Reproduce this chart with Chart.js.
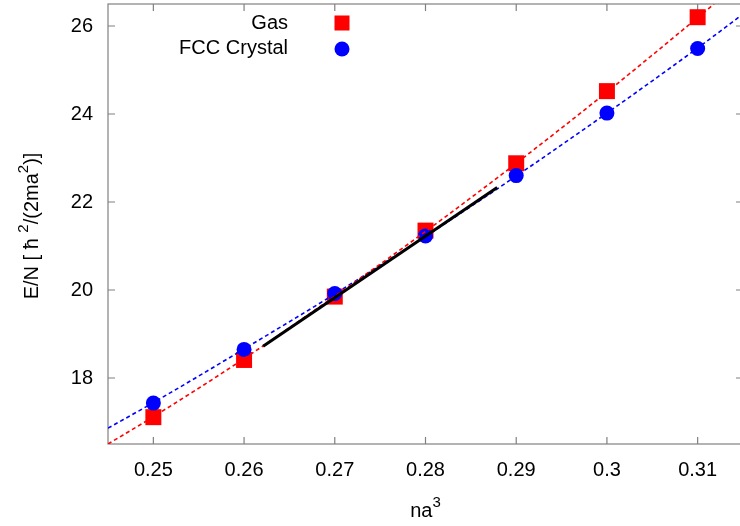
<!DOCTYPE html>
<html>
<head>
<meta charset="utf-8">
<script src="https://cdn.jsdelivr.net/npm/chart.js@4.4.1/dist/chart.umd.min.js"></script>
<style>
  html, body { margin: 0; padding: 0; background: #fff; overflow: hidden; }
  canvas { display: block; }
</style>
</head>
<body>
<canvas id="chart" width="746" height="526"></canvas>
<script>
// density n*a^3 and energy per particle for both phases
const densities = [0.25, 0.26, 0.27, 0.28, 0.29, 0.30, 0.31];
const gasEnergy = [17.11, 18.41, 19.85, 21.35, 22.88, 24.52, 26.20];
const crystalEnergy = [17.43, 18.65, 19.92, 21.23, 22.60, 24.02, 25.49];

// fitted equations of state
const gasFitX = [0.245, 0.25, 0.26, 0.27, 0.28, 0.29, 0.30, 0.31, 0.3118];
const gasFitY = [16.50, 17.12, 18.44, 19.86, 21.33, 22.88, 24.50, 26.19, 26.50];
const crystalFitX = [0.245, 0.25, 0.26, 0.27, 0.28, 0.29, 0.30, 0.31, 0.315];
const crystalFitY = [16.86, 17.44, 18.66, 19.91, 21.22, 22.59, 24.02, 25.50, 26.27];

// common tangent (double tangent construction)
const tangentX = [0.2621, 0.2879];
const tangentY = [18.72, 22.33];

const xTicks = [0.25, 0.26, 0.27, 0.28, 0.29, 0.3, 0.31];
const yTicks = [18, 20, 22, 24, 26];

const FONT = '"Liberation Sans", Arial, Helvetica, sans-serif';
const FRAME = '#808080';

const toPoints = (xs, ys) => xs.map((x, i) => ({ x: x, y: ys[i] }));

// gnuplot-like border with inward ticks on all four sides
const framePlugin = {
  id: 'frame',
  beforeDatasetsDraw(chart) {
    const { ctx, chartArea: a, scales } = chart;
    const len = 7;
    ctx.save();
    ctx.strokeStyle = FRAME;
    ctx.lineWidth = 1.2;
    ctx.strokeRect(a.left, a.top, a.right - a.left, a.bottom - a.top);
    ctx.beginPath();
    xTicks.forEach((v) => {
      const px = scales.x.getPixelForValue(v);
      ctx.moveTo(px, a.bottom); ctx.lineTo(px, a.bottom - len);
      ctx.moveTo(px, a.top); ctx.lineTo(px, a.top + len);
    });
    yTicks.forEach((v) => {
      const py = scales.y.getPixelForValue(v);
      ctx.moveTo(a.left, py); ctx.lineTo(a.left + len, py);
      ctx.moveTo(a.right, py); ctx.lineTo(a.right - len, py);
    });
    ctx.stroke();
    ctx.restore();
  },
};

// text with raised exponents
function drawRich(ctx, parts, cx, baseline) {
  const size = (p) => (p.sup ? 15 : 20);
  let total = 0;
  parts.forEach((p) => {
    ctx.font = size(p) + 'px ' + FONT;
    total += ctx.measureText(p.t).width;
  });
  let x = cx - total / 2;
  ctx.textAlign = 'left';
  ctx.textBaseline = 'alphabetic';
  parts.forEach((p) => {
    ctx.font = size(p) + 'px ' + FONT;
    ctx.fillText(p.t, x, p.sup ? baseline - 10 : baseline);
    x += ctx.measureText(p.t).width;
  });
}

const titlePlugin = {
  id: 'axisTitles',
  afterDraw(chart) {
    const { ctx, chartArea: a } = chart;
    ctx.save();
    ctx.fillStyle = '#000';
    drawRich(ctx, [{ t: 'na' }, { t: '3', sup: true }], (a.left + a.right) / 2, 517);
    ctx.translate(38, (a.top + a.bottom) / 2 + 2);
    ctx.rotate(-Math.PI / 2);
    drawRich(ctx, [
      { t: 'E/N [ ħ ' }, { t: '2', sup: true },
      { t: '/(2ma' }, { t: '2', sup: true }, { t: ')]' },
    ], 0, 0);
    ctx.restore();
  },
};

// key in the upper left corner: label right-aligned, symbol to its right
const keyPlugin = {
  id: 'key',
  afterDraw(chart) {
    const ctx = chart.ctx;
    ctx.save();
    ctx.font = '20px ' + FONT;
    ctx.textAlign = 'right';
    ctx.textBaseline = 'middle';
    chart.data.datasets.forEach((ds) => {
      if (ds.keyRow === undefined) return;
      const y = 23 + ds.keyRow * 25;
      ctx.fillStyle = '#000';
      ctx.fillText(ds.label, 288, y);
      ctx.fillStyle = ds.backgroundColor;
      if (ds.pointStyle === 'rect') {
        ctx.fillRect(342 - 7.5, y - 7.5, 15, 15);
      } else {
        ctx.beginPath();
        ctx.arc(342, y + 1, 7.5, 0, Math.PI * 2);
        ctx.fill();
      }
    });
    ctx.restore();
  },
};

new Chart(document.getElementById('chart'), {
  type: 'line',
  data: {
    datasets: [
      {
        label: 'tangent',
        data: toPoints(tangentX, tangentY),
        borderColor: '#000',
        borderWidth: 3,
        pointRadius: 0,
        order: 0,
      },
      {
        label: 'gas fit',
        data: toPoints(gasFitX, gasFitY),
        borderColor: '#ff0000',
        borderWidth: 1.6,
        borderDash: [4, 3],
        pointRadius: 0,
        cubicInterpolationMode: 'monotone',
        order: 1,
      },
      {
        label: 'crystal fit',
        data: toPoints(crystalFitX, crystalFitY),
        borderColor: '#0000ff',
        borderWidth: 1.6,
        borderDash: [4, 3],
        pointRadius: 0,
        cubicInterpolationMode: 'monotone',
        order: 1,
      },
      {
        label: 'FCC Crystal',
        keyRow: 1,
        data: toPoints(densities, crystalEnergy),
        showLine: false,
        pointStyle: 'circle',
        pointRadius: 7.5,
        borderWidth: 0,
        backgroundColor: '#0000ff',
        borderColor: '#0000ff',
        order: 2,
      },
      {
        label: 'Gas',
        keyRow: 0,
        data: toPoints(densities, gasEnergy),
        showLine: false,
        pointStyle: 'rect',
        pointRadius: 11.3,
        borderWidth: 0,
        backgroundColor: '#ff0000',
        borderColor: '#ff0000',
        order: 3,
      },
    ],
  },
  options: {
    responsive: false,
    animation: false,
    layout: { autoPadding: false, padding: { top: 4, right: 3, left: 0, bottom: 0 } },
    plugins: {
      legend: { display: false },
      tooltip: { enabled: false },
    },
    scales: {
      x: {
        type: 'linear',
        min: 0.245,
        max: 0.315,
        afterBuildTicks: (s) => { s.ticks = xTicks.map((v) => ({ value: v })); },
        afterFit: (s) => { s.height = 82; s.paddingLeft = 0; s.paddingRight = 0; },
        grid: { display: false, drawTicks: false },
        border: { display: false },
        ticks: {
          padding: 14,
          color: '#000',
          font: { family: FONT, size: 20 },
          callback: (v) => String(v),
        },
      },
      y: {
        min: 16.5,
        max: 26.5,
        afterBuildTicks: (s) => { s.ticks = yTicks.map((v) => ({ value: v })); },
        afterFit: (s) => { s.width = 108; s.paddingTop = 0; s.paddingBottom = 0; },
        grid: { display: false, drawTicks: false },
        border: { display: false },
        ticks: {
          padding: 15,
          color: '#000',
          font: { family: FONT, size: 20 },
        },
      },
    },
  },
  plugins: [framePlugin, titlePlugin, keyPlugin],
});
</script>
</body>
</html>
